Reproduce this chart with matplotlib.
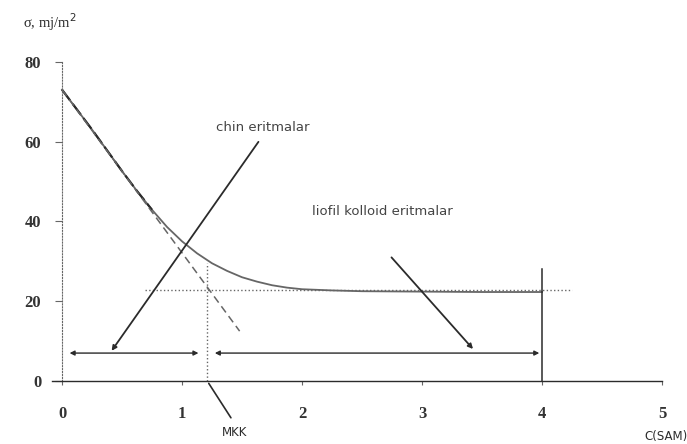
import matplotlib.pyplot as plt

# sirt taranglik egri chizig'i (SAM konsentratsiyasi bo'yicha)
conc = [0.0, 0.125, 0.25, 0.375, 0.5, 0.625, 0.75, 0.875, 1.0, 1.125, 1.25, 1.375,
        1.5, 1.625, 1.75, 1.875, 2.0, 2.25, 2.5, 3.0, 3.5, 4.0]
sigma = [73.0, 68.0, 63.0, 57.8, 52.6, 47.6, 42.9, 38.6, 35.0, 32.0, 29.5, 27.6,
         26.0, 24.9, 24.0, 23.4, 23.0, 22.7, 22.5, 22.4, 22.3, 22.3]

tangent_x = [0.0, 1.48]
tangent_y = [73.0, 12.5]

chin_x = [0.4, 1.65]
chin_y = [7.0, 60.5]
liofil_x = [2.73, 3.44]
liofil_y = [31.5, 7.5]

mkk = 1.21
c_max = 4.0
sigma_min = 22.8
arrow_level = 7.0

xticks = [0, 1, 2, 3, 4, 5]
yticks = [0, 20, 40, 60, 80]

ink = '#2b2b2b'
grey = '#666666'

fig = plt.figure(figsize=(6.87, 4.44), dpi=100)
ax = fig.add_axes([0.0728, 0.1104, 0.9098, 0.7658])
ax.set_xlim(-0.1, 5.108)
ax.set_ylim(-3.5, 81.7)

for s in ['top', 'right']:
    ax.spines[s].set_visible(False)
ax.spines['left'].set_position(('data', 0))
ax.spines['left'].set_bounds(0, 80)
ax.spines['left'].set_linestyle(':')
ax.spines['left'].set_color(grey)
ax.spines['bottom'].set_position(('data', 0))
ax.spines['bottom'].set_bounds(-0.08, 5)
ax.spines['bottom'].set_color(ink)
ax.spines['bottom'].set_linewidth(1.0)

ax.set_xticks(xticks)
ax.set_yticks(yticks)
ax.tick_params(axis='x', direction='out', length=3, pad=15, color=grey)
ax.tick_params(axis='y', direction='out', length=5, pad=10, color=grey)
for lab in ax.get_xticklabels() + ax.get_yticklabels():
    lab.set_fontfamily('Liberation Serif')
    lab.set_fontsize(12)
    lab.set_fontweight('bold')
    lab.set_color('#333333')

# egri chiziq va urinma
ax.plot(conc, sigma, color=grey, lw=1.3)
ax.plot(conc[:7], sigma[:7], color=ink, lw=1.6, ls='--', dashes=(6, 2))
ax.plot(tangent_x, tangent_y, color=grey, lw=1.1, ls='--', dashes=(5, 3))

# yordamchi chiziqlar
ax.plot([0.69, 4.25], [sigma_min, sigma_min], color=grey, lw=1.0, ls=':')
ax.plot([mkk, mkk], [0, 29.5], color=grey, lw=1.0, ls=':')
ax.plot([c_max, c_max], [0, 28], color=ink, lw=1.1)

# gorizontal strelkalar
ax.annotate('', xy=(0.04, arrow_level), xytext=(1.16, arrow_level),
            arrowprops=dict(arrowstyle='<|-|>', color=ink, lw=1.0, mutation_scale=7))
ax.annotate('', xy=(1.25, arrow_level), xytext=(c_max, arrow_level),
            arrowprops=dict(arrowstyle='<|-|>', color=ink, lw=1.0, mutation_scale=7))

# ko'rsatkichlar
ax.annotate('', xy=(chin_x[0], chin_y[0]), xytext=(chin_x[1], chin_y[1]),
            arrowprops=dict(arrowstyle='-|>', color=ink, lw=1.3, mutation_scale=7))
ax.annotate('', xy=(liofil_x[1], liofil_y[1]), xytext=(liofil_x[0], liofil_y[0]),
            arrowprops=dict(arrowstyle='-|>', color=ink, lw=1.3, mutation_scale=7))
ax.annotate('', xy=(mkk, 0), xytext=(1.42, -9.8),
            arrowprops=dict(arrowstyle='-', color=ink, lw=1.2), annotation_clip=False)

ax.text(1.67, 63.5, 'chin eritmalar', ha='center', va='center', fontsize=9.5, color='#444444')
ax.text(2.67, 42.4, 'liofil kolloid eritmalar', ha='center', va='center', fontsize=9.5, color='#444444')
ax.text(1.44, -12.8, 'MKK', ha='center', va='center', fontsize=8.5, color=ink, clip_on=False)
ax.text(5.03, -13.8, 'C(SAM)', ha='center', va='center', fontsize=8.5, color=ink, clip_on=False)
ax.text(-0.1, 90.0, 'σ, mj/m$^2$', ha='center', va='center', fontsize=10.5,
        fontfamily='Liberation Serif', color=ink, clip_on=False)

plt.savefig('out.png', dpi=100)
